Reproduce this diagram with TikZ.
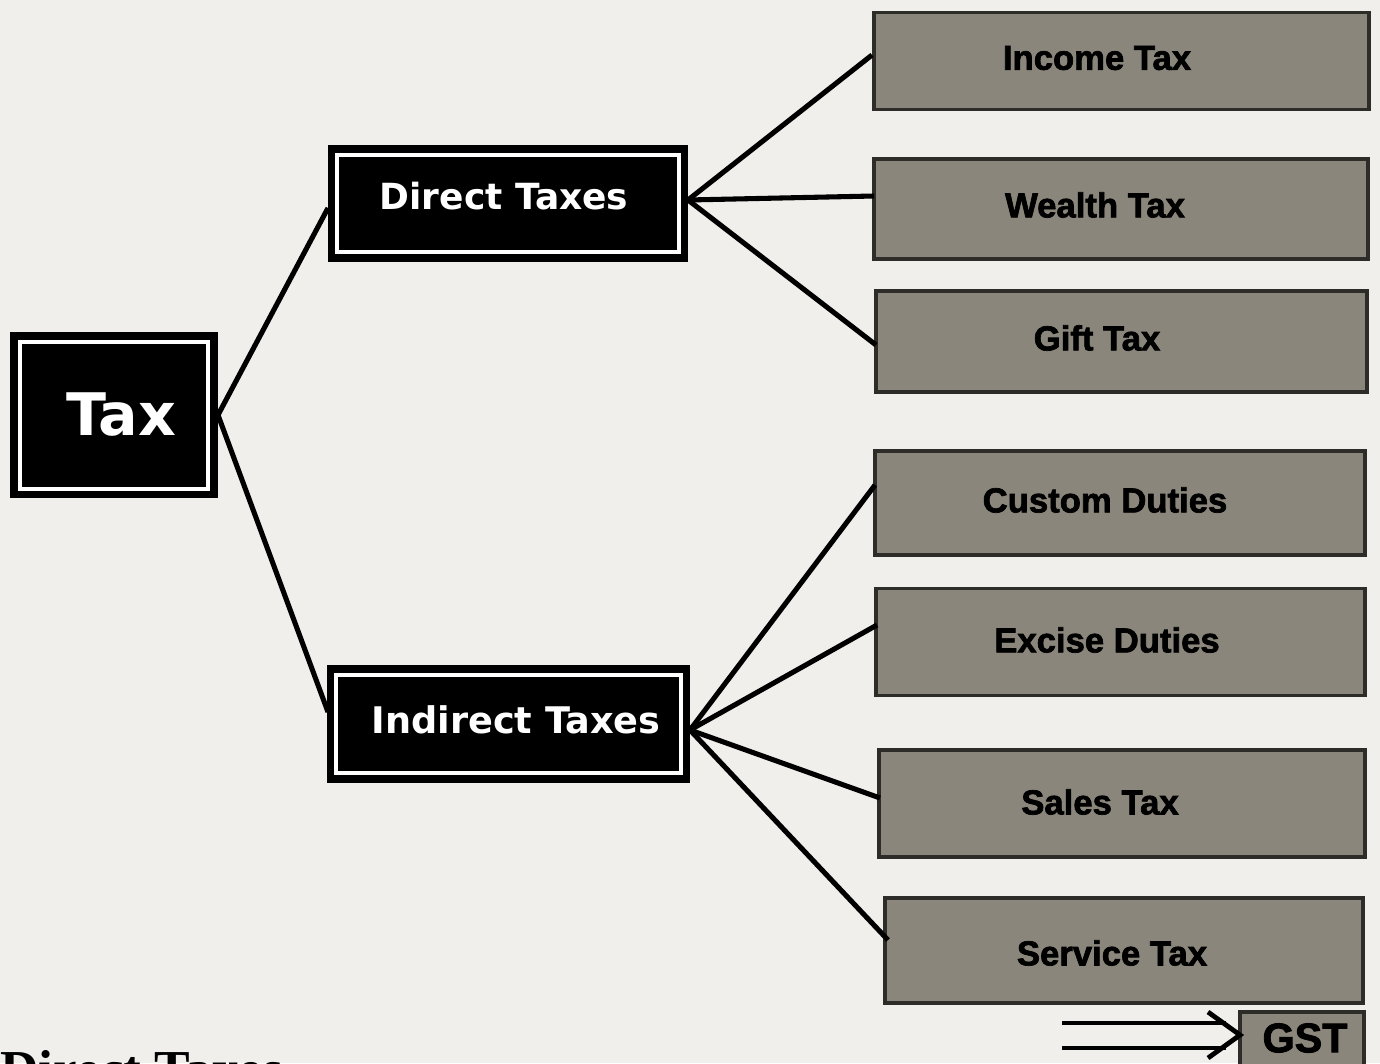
\documentclass[tikz,border=0pt]{standalone}
\usepackage{fontspec}
\setmainfont{Liberation Serif}
\newfontfamily\djbold{DejaVu Sans Bold}
\newfontfamily\lsbold[FakeBold=2]{Liberation Sans Bold}
\definecolor{paper}{HTML}{F1EFEB}
\definecolor{boxgray}{HTML}{8A867B}
\definecolor{boxedge}{HTML}{2E2C28}
\tikzset{
  conn/.style={line width=3.8pt, black},
  whiteline/.style={draw=white, line width=3.5pt},
  graybox/.style={fill=boxgray, draw=boxedge, line width=2.6pt, inner sep=0pt},
  graytext/.style={font=\lsbold\fontsize{26}{26}\selectfont, text=black},
  whitetext/.style={text=white, font=\djbold\fontsize{#1}{#1}\selectfont}
}
\begin{document}
\begin{tikzpicture}[x=0.75pt,y=-0.75pt]
\fill[paper] (0,0) rectangle (1380,1063);
\useasboundingbox (0,0) rectangle (1380,1063);

% Tax
\node[fill=black, minimum width=156pt, minimum height=124.5pt, inner sep=0pt] (tax) at (114,415) {};
\draw[whiteline] (20,342) rectangle (208,489);
\node[whitetext=44] at (121,415) {Tax};

% Direct Taxes
\node[fill=black, minimum width=270pt, minimum height=87.75pt, inner sep=0pt] (dt) at (508,203.5) {};
\draw[whiteline] (337,155) rectangle (679,252);
\node[whitetext=27] at (504,196) {Direct Taxes};

% Indirect Taxes
\node[fill=black, minimum width=272.25pt, minimum height=88.5pt, inner sep=0pt] (it) at (508.5,724) {};
\draw[whiteline] (336,675) rectangle (681,773);
\node[whitetext=27.5] at (516,720) {Indirect Taxes};

% gray boxes
\node[graybox, minimum width=371pt, minimum height=73pt] (inc) at (1121.5,61) {};
\node[graytext] at (1097,58) {Income Tax};
\node[graybox, minimum width=370.5pt, minimum height=75pt] (wea) at (1121,209) {};
\node[graytext] at (1095,205) {Wealth Tax};
\node[graybox, minimum width=368pt, minimum height=76pt] (gif) at (1121.5,341.5) {};
\node[graytext] at (1097,338) {Gift Tax};
\node[graybox, minimum width=367.5pt, minimum height=78pt] (cus) at (1120,503) {};
\node[graytext] at (1105,500) {Custom Duties};
\node[graybox, minimum width=366.75pt, minimum height=80pt] (exc) at (1120.5,642) {};
\node[graytext] at (1107,640) {Excise Duties};
\node[graybox, minimum width=364.5pt, minimum height=80pt] (sal) at (1122,803.5) {};
\node[graytext] at (1100,802) {Sales Tax};
\node[graybox, minimum width=358.5pt, minimum height=78.75pt] (ser) at (1124,950.5) {};
\node[graytext] at (1112,953) {Service Tax};
\node[graybox, minimum width=93pt, minimum height=48pt] (gst) at (1302,1044) {};
\node[font=\lsbold\fontsize{31}{31}\selectfont, text=black] at (1305,1038) {GST};

% connectors
\draw[conn] (218,415) -- (328,208);
\draw[conn] (218,415) -- (328,712);
\draw[conn] (688,200) -- (872,55);
\draw[conn] (688,200) -- (874,196);
\draw[conn] (688,200) -- (876,345);
\draw[conn] (690,730) -- (875,485);
\draw[conn] (690,730) -- (877,625);
\draw[conn] (690,730) -- (880,798);
\draw[conn] (690,730) -- (888,940);

% double arrow to GST
\coordinate (ga) at (1062,1023);
\coordinate (gb) at (1062,1048);
\draw[line width=3.6pt] (ga) -- (1226,1023);
\draw[line width=3.6pt] (gb) -- (1226,1048);
\draw[line width=3.6pt, line join=miter] (1208,1012) -- (1240,1035) -- (1208,1058);

% cut-off heading at the bottom
\node[anchor=north west, inner sep=0pt, font=\bfseries\fontsize{40}{40}\selectfont] (head) at (0,1050) {Direct Taxes};
\end{tikzpicture}
\end{document}
